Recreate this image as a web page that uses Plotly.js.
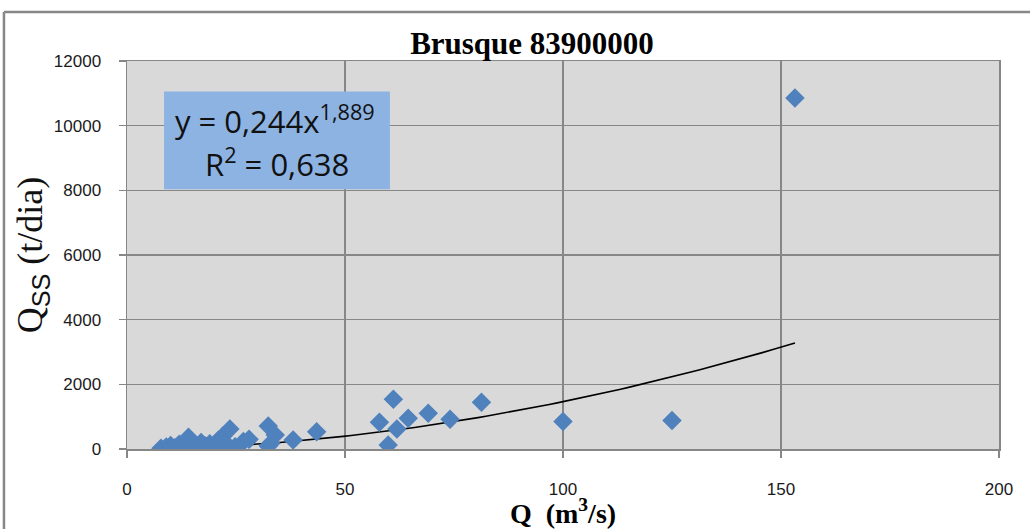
<!DOCTYPE html>
<html>
<head>
<meta charset="utf-8">
<script src="https://cdn.plot.ly/plotly-3.0.1.min.js"></script>
<style>
  html, body { margin: 0; padding: 0; background: #ffffff; overflow: hidden; }
  #chart { width: 1030px; height: 529px; }
</style>
</head>
<body>
<div id="chart"></div>
<script>
// Vazão líquida medida, Q (m³/s)
const vazao = [
  7.8, 9.0, 10.0, 11.0, 12.0, 13.0, 14.1, 15.0, 16.0, 17.0, 18.0, 19.0, 20.0,
  21.0, 22.0, 23.0, 23.6, 24.8, 26.7, 28.0, 32.4, 32.4, 33.0, 34.0, 38.1, 43.5,
  57.9, 59.9, 61.1, 61.9, 64.5, 69.1, 74.1, 81.3, 100.0, 125.0, 153.2
];
// Descarga sólida em suspensão, Qss (t/dia)
const descargaSolida = [
  20, 60, 110, 40, 150, 80, 360, 120, 30, 200, 90, 160, 50,
  280, 400, 130, 620, 70, 230, 300, 713, 93, 180, 430, 279, 537,
  828, 124, 1541, 620, 952, 1107, 921, 1448, 847, 878, 10853
];
// Ajuste de potência Qss = a · Q^b
const ajusteA = 0.244;
const ajusteB = 1.889;
const ajusteR2 = 0.638;

const titulo = 'Brusque 83900000';
const ticksX = [0, 50, 100, 150, 200];
const ticksY = [0, 2000, 4000, 6000, 8000, 10000, 12000];

// Curva da linha de tendência entre a menor e a maior vazão observada
const qMin = Math.min(...vazao);
const qMax = Math.max(...vazao);
const curvaX = [];
const curvaY = [];
for (let i = 0; i <= 80; i++) {
  const q = qMin + (qMax - qMin) * i / 80;
  curvaX.push(q);
  curvaY.push(ajusteA * Math.pow(q, ajusteB));
}

const virgula = (v, casas) => v.toFixed(casas).replace('.', ',');

const cinza = '#878787';
const fonteTicks = { family: "'Liberation Sans', Arial, sans-serif", size: 17, color: '#1a1a1a' };
const fonteEq = { family: "'Open Sans', 'Liberation Sans', sans-serif", size: 31, color: '#111111' };

const pontos = {
  x: vazao,
  y: descargaSolida,
  type: 'scatter',
  mode: 'markers',
  marker: { symbol: 'diamond', size: 15, color: '#4F81BD', line: { width: 0 } },
  hoverinfo: 'x+y',
  showlegend: false
};

const tendencia = {
  x: curvaX,
  y: curvaY,
  type: 'scatter',
  mode: 'lines',
  line: { color: '#000000', width: 1.6 },
  hoverinfo: 'skip',
  showlegend: false
};

const layout = {
  width: 1030,
  height: 529,
  margin: { l: 127, r: 31, t: 61, b: 80 },
  paper_bgcolor: '#ffffff',
  plot_bgcolor: '#d9d9d9',
  title: {
    text: titulo,
    font: { family: "'Liberation Serif', 'Times New Roman', serif", size: 31, weight: 700, color: '#000000' },
    xref: 'container', x: 0.5165, xanchor: 'center',
    yref: 'container', y: 1 - 43 / 529, yanchor: 'middle'
  },
  xaxis: {
    range: [0, 200],
    tickvals: ticksX,
    tickformat: 'd',
    showgrid: true, gridcolor: cinza, gridwidth: 1.5,
    zeroline: false,
    showline: true, linecolor: cinza, linewidth: 1.5, mirror: true,
    ticks: 'outside', ticklen: 7, tickcolor: cinza, tickwidth: 1.5,
    ticklabelstandoff: 17,
    tickfont: fonteTicks,
    title: {
      text: 'Q&nbsp; (m<sup>3</sup>/s)',
      font: { family: "'Liberation Serif', 'Times New Roman', serif", size: 28, weight: 700, color: '#000000' },
      standoff: 8
    },
    fixedrange: true
  },
  yaxis: {
    range: [0, 12000],
    tickvals: ticksY,
    tickformat: 'd',
    showgrid: true, gridcolor: cinza, gridwidth: 1.5,
    zeroline: false,
    showline: true, linecolor: cinza, linewidth: 1.5, mirror: true,
    ticks: 'outside', ticklen: 7, tickcolor: cinza, tickwidth: 1.5,
    ticklabelstandoff: 14,
    tickfont: fonteTicks,
    title: {
      text: "Q<sub><span style=\"font-family:'Liberation Sans'\">SS</span></sub> (t/dia)",
      font: { family: "'Liberation Serif', 'Times New Roman', serif", size: 36, color: '#111111' },
      standoff: 0
    },
    fixedrange: true
  },
  shapes: [
    // caixa da equação de ajuste
    { type: 'rect', xref: 'x', yref: 'y', x0: 8.5, x1: 60.3, y0: 8031, y1: 11060,
      fillcolor: '#8DB3E2', line: { width: 0 }, layer: 'above' },
    // moldura da área do gráfico
    { type: 'line', xref: 'paper', yref: 'paper', x0: -0.1411, x1: -0.1411, y0: -0.21, y1: 1.1263,
      line: { color: cinza, width: 2.5 } },
    { type: 'line', xref: 'paper', yref: 'paper', x0: -0.1411, x1: 1.04, y0: 1.1263, y1: 1.1263,
      line: { color: cinza, width: 2.5 } }
  ],
  annotations: [
    { xref: 'x', yref: 'y', x: 34.0, y: 10200, xanchor: 'center', yanchor: 'middle', showarrow: false,
      text: 'y = ' + virgula(ajusteA, 3) + 'x<sup>' + virgula(ajusteB, 3) + '</sup>', font: fonteEq },
    { xref: 'x', yref: 'y', x: 34.3, y: 8850, xanchor: 'center', yanchor: 'middle', showarrow: false,
      text: 'R<sup>2</sup> = ' + virgula(ajusteR2, 3), font: fonteEq }
  ]
};

Plotly.newPlot('chart', [tendencia, pontos], layout, { displayModeBar: false, staticPlot: true });
</script>
</body>
</html>
